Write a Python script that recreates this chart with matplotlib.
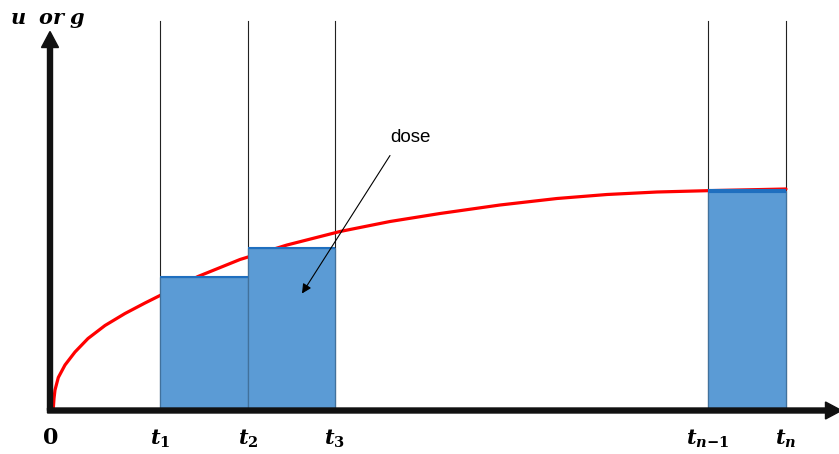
import matplotlib.pyplot as plt

plt.rcParams['mathtext.fontset'] = 'dejavuserif'

# time marks (t1, t2, t3, t_{n-1}, t_n) and their labels
t_marks = [110, 198, 285, 658, 736]
t_labels = [r'$\boldsymbol{t}_{\mathbf{1}}$', r'$\boldsymbol{t}_{\mathbf{2}}$',
            r'$\boldsymbol{t}_{\mathbf{3}}$',
            r'$\boldsymbol{t}_{\boldsymbol{n}\mathbf{-1}}$',
            r'$\boldsymbol{t}_{\boldsymbol{n}}$']

# dose blocks: start, width, level
dose_start = [110, 198, 658]
dose_width = [88, 87, 78]
dose_level = [134, 163, 220]

# u(t)
curve_t = [3.3, 4, 5, 8.3, 15, 25, 38, 55, 75, 95, 108, 148, 190, 237,
           290, 340, 390, 450, 507, 557, 607, 657, 736]
curve_u = [2, 12, 20.5, 33, 45.5, 58.5, 72, 85, 97, 107.5, 114, 134, 151, 165.5,
           179, 189, 197, 205.5, 212, 216, 218.5, 219.8, 221.5]

fig = plt.figure(figsize=(8.39, 4.54), dpi=100)
ax = fig.add_axes([0, 0, 1, 1])
ax.set_xlim(-50, 789)
ax.set_ylim(-43.5, 410.5)
ax.axis('off')

# thin guide lines at each time mark
for t in t_marks:
    ax.plot([t, t], [0, 390], color='#222222', lw=0.8, zorder=1)

ax.plot(curve_t, curve_u, color='#ff0000', lw=2.3, zorder=2,
        solid_capstyle='round', solid_joinstyle='round')

ax.bar(dose_start, dose_level, width=dose_width, align='edge',
       color='#5b9bd5', edgecolor='#41719c', lw=0.9, zorder=3)
for s, w, h in zip(dose_start, dose_width, dose_level):
    top_lw = 3 if h > 200 else 1.5
    ax.plot([s, s + w], [h, h], color='#1f6fbf', lw=top_lw, zorder=4,
            solid_capstyle='butt')

# axes with arrow heads
ax.arrow(0, 0, 0, 379, width=5, head_width=17, head_length=16,
         length_includes_head=True, color='#111111', zorder=5)
ax.arrow(-2.5, 0, 794, 0, width=5, head_width=17, head_length=16,
         length_includes_head=True, color='#111111', zorder=5)

ax.text(-40, 391, r'$\boldsymbol{u\ \ or\ g}$', fontsize=15, ha='left', va='center')
ax.text(0, -28, r'$\mathbf{0}$', fontsize=16, ha='center', va='center')
for t, lab in zip(t_marks, t_labels):
    ax.text(t, -28, lab, fontsize=15, ha='center', va='center')

ax.text(360, 273, 'dose', fontsize=13.5, family='Liberation Sans',
        ha='center', va='center')
ax.annotate('', xy=(252, 117), xytext=(340, 255),
            arrowprops=dict(arrowstyle='-|>', color='black', lw=0.8,
                            mutation_scale=14, shrinkA=0, shrinkB=0),
            zorder=6)

fig.savefig('out.png', dpi=100)
